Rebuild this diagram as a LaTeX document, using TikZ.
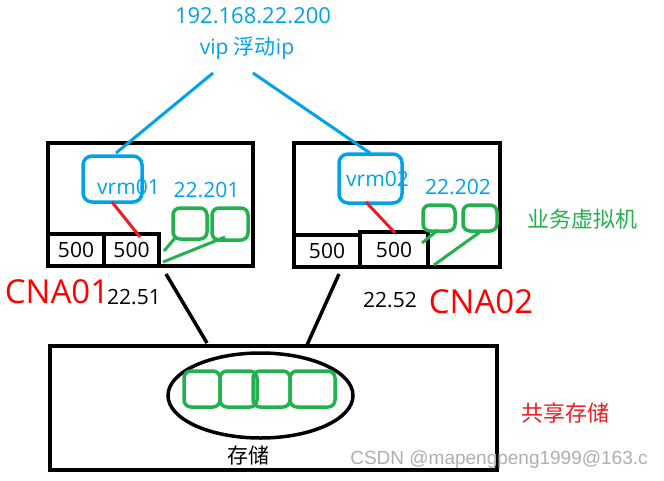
\documentclass[tikz,border=0pt]{standalone}
\usepackage{fontspec}
\usetikzlibrary{shapes.geometric}
\setmainfont{Open Sans}
\newfontfamily\cjk{Noto Sans CJK SC}
\newfontfamily\wmfont{Liberation Sans}
\definecolor{pblue}{RGB}{0,162,232}
\definecolor{pgreen}{RGB}{34,177,76}
\definecolor{pred}{RGB}{237,28,36}
\definecolor{wmgray}{RGB}{175,175,175}
\tikzset{
  blackbox/.style={draw=black, line width=4pt, rectangle, inner sep=0pt, outer sep=0pt},
  cellbox/.style={blackbox, line width=3.5pt, font=\fontsize{21}{24}\selectfont},
  vrmbox/.style={draw=pblue, line width=3.5pt, rounded corners=9pt, inner sep=0pt, outer sep=0pt},
  vmbox/.style={draw=pgreen, line width=3.5pt, rounded corners=7pt, inner sep=0pt, outer sep=0pt},
  bluetext/.style={text=pblue, inner sep=0pt, font=\fontsize{21}{24}\selectfont},
  blacktext/.style={text=black, inner sep=0pt, font=\fontsize{21}{24}\selectfont},
  cnatext/.style={text=red, inner sep=0pt, font=\fontsize{33}{38}\selectfont},
  cjklabel/.style={inner sep=0pt, font=\cjk\fontsize{22}{26}\selectfont},
  blueline/.style={draw=pblue, line width=3pt},
  redline/.style={draw=pred, line width=3pt},
  greenline/.style={draw=pgreen, line width=3pt},
  blackline/.style={draw=black, line width=3.5pt},
}
\begin{document}
\begin{tikzpicture}[x=1pt,y=-1pt]
\useasboundingbox[fill=white] (0,0) rectangle (664,480);

% top VIP text
\node[bluetext, font=\fontsize{22}{26}\selectfont] (ip) at (253,16) {192.168.22.200};
\node[bluetext] (vip) at (247,48) {vip {\cjk 浮动}ip};

% left host
\node[blackbox, minimum width=205pt, minimum height=123pt] (hostA) at (150.5,204.5) {};
\node[cellbox, minimum width=56pt, minimum height=32pt] (a1) at (76,250) {500};
\node[cellbox, minimum width=55pt, minimum height=32pt] (a2) at (131.5,250) {500};
\node[vrmbox, minimum width=59pt, minimum height=46pt] (vrmA) at (112.5,179) {};
\node[bluetext] (vrmAt) at (128.5,187) {vrm01};
\node[bluetext] (ipA) at (206.5,190) {22.201};
\node[vmbox, minimum width=34pt, minimum height=31pt] (ga1) at (190,223.5) {};
\node[vmbox, minimum width=36pt, minimum height=32pt] (ga2) at (230,224) {};

% right host
\node[blackbox, minimum width=206pt, minimum height=124pt] (hostB) at (397,205) {};
\node[cellbox, minimum width=66pt, minimum height=32pt] (b1) at (327,251) {500};
\node[cellbox, minimum width=68pt, minimum height=35pt] (b2) at (394,249.5) {500};
\node[vrmbox, minimum width=63pt, minimum height=49pt] (vrmB) at (370.5,178.5) {};
\node[bluetext] (vrmBt) at (377.5,178.5) {vrm02};
\node[bluetext] (ipB) at (458,187.5) {22.202};
\node[vmbox, minimum width=32pt, minimum height=26pt] (gb1) at (439,218) {};
\node[vmbox, minimum width=34pt, minimum height=26pt] (gb2) at (480,218) {};

% storage
\node[blackbox, minimum width=447pt, minimum height=124pt] (store) at (273.5,408) {};
\node[draw=black, line width=3.5pt, ellipse, minimum width=185pt, minimum height=85pt, inner sep=0pt] (pool) at (260.5,395.5) {};
\node[vmbox, minimum width=36pt, minimum height=36pt] (s1) at (202,389) {};
\node[vmbox, minimum width=37pt, minimum height=36pt] (s2) at (238.5,389) {};
\node[vmbox, minimum width=37pt, minimum height=36pt] (s3) at (271.5,389) {};
\node[vmbox, minimum width=45pt, minimum height=36pt] (s4) at (312.5,389) {};
\node[blacktext, font=\cjk\fontsize{21}{24}\selectfont] (storeT) at (248.5,455) {存储};

% labels
\node[cnatext] (cnaA) at (57,292) {CNA01};
\node[blacktext] (mA) at (134,297) {22.51};
\node[blacktext] (mB) at (390,300) {22.52};
\node[cnatext] (cnaB) at (481,302) {CNA02};
\node[cjklabel, text=pgreen] (biz) at (582,219) {业务虚拟机};
\node[cjklabel, text=pred] (share) at (565.5,413) {共享存储};
\node[inner sep=0pt, text=wmgray, font=\wmfont\fontsize{19}{22}\selectfont] (wm) at (499,460) {CSDN @mapengpeng1999@163.c};

% connector end points
\coordinate (vipL) at (213,73);
\coordinate (vipR) at (253,73);
\coordinate (vrmAtop) at (116,153);
\coordinate (vrmBtop) at (370,153);
\coordinate (redA1) at (112,202);
\coordinate (redA2) at (140,237);
\coordinate (redB1) at (366,202);
\coordinate (redB2) at (395,233);
\coordinate (gA1s) at (164,251);
\coordinate (gA1e) at (175,238);
\coordinate (gA2s) at (163,262);
\coordinate (gA2e) at (225,237);
\coordinate (gB1s) at (422,243);
\coordinate (gB1e) at (438,230);
\coordinate (gB2s) at (434,265);
\coordinate (gB2e) at (480,232);
\coordinate (hA) at (166,274);
\coordinate (sA) at (207,343);
\coordinate (hB) at (339,274);
\coordinate (sB) at (307,345);

\draw[blueline] (vipL) -- (vrmAtop);
\draw[blueline] (vipR) -- (vrmBtop);
\draw[redline] (redA1) -- (redA2);
\draw[redline] (redB1) -- (redB2);
\draw[greenline] (gA1s) -- (gA1e);
\draw[greenline] (gA2s) -- (gA2e);
\draw[greenline] (gB1s) -- (gB1e);
\draw[greenline] (gB2s) -- (gB2e);
\draw[blackline] (hA) -- (sA);
\draw[blackline] (hB) -- (sB);
\end{tikzpicture}
\end{document}
